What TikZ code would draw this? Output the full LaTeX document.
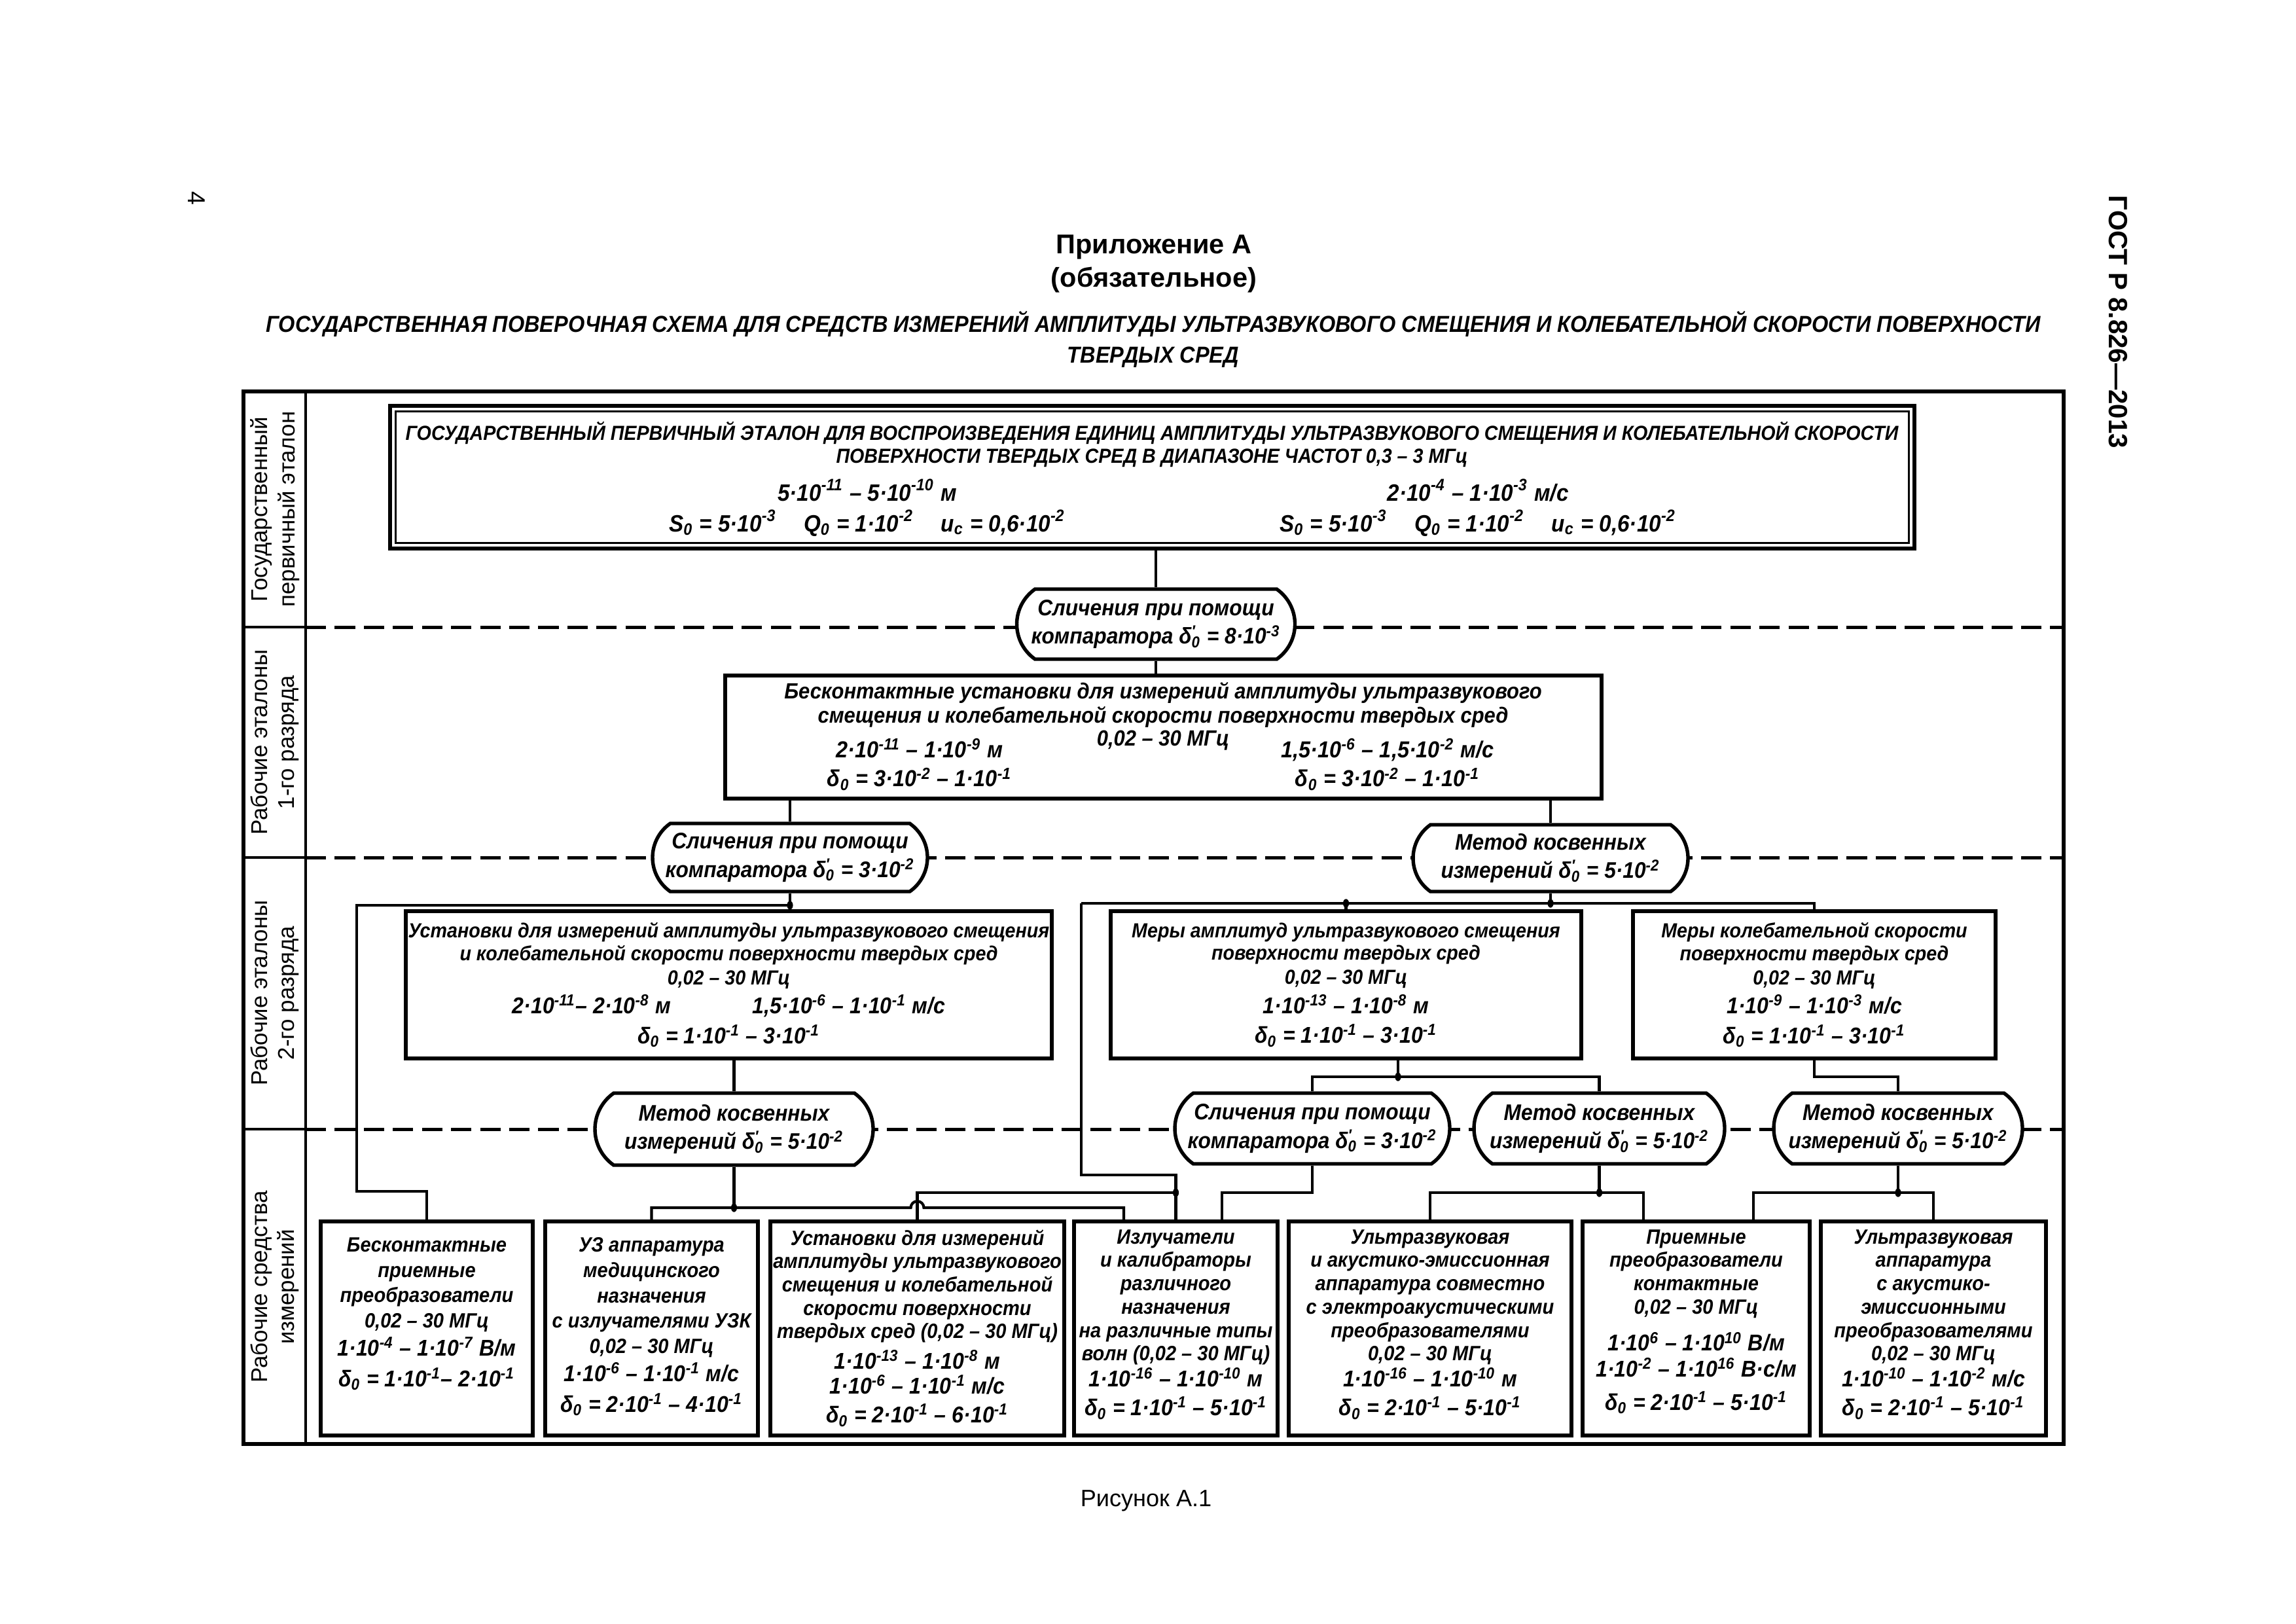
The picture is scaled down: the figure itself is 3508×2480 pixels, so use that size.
\documentclass[tikz,border=0pt]{standalone}
\usepackage{fontspec}
\setmainfont{Liberation Sans}
\newfontfamily\nrw[FakeStretch=0.92]{Liberation Sans}
\usetikzlibrary{shapes.misc}

% one pixel of the page
\newcommand\pxl{0.24088pt}
\newcommand\dz{δ\textsubscript{0}}
\newcommand\dzp{δ\rlap{\textsuperscript{′}}\textsubscript{0}}
\newcommand\ex[1]{\textsuperscript{#1}}
\newcommand\nm{\fontsize{8.4}{1.0\baselineskip}\selectfont}

\begin{document}
\begin{tikzpicture}[x=0.24088pt, y=-0.24088pt,
  every node/.style={inner sep=0pt, align=center},
  tx/.style={font=\nrw\fontsize{7.5}{8.4}\selectfont\bfseries\itshape},
  txs/.style={font=\nrw\fontsize{8.5}{10.8}\selectfont\bfseries\itshape},
  btx/.style={font=\nrw\fontsize{7.6}{8.6}\selectfont\bfseries\itshape, below=3.5pt},
  bx/.style 2 args={draw, line width=1.4pt, fill=white, minimum width=#1*\pxl, minimum height=#2*\pxl},
  rnd/.style 2 args={draw, line width=1.3pt, fill=white, rounded rectangle, rounded rectangle arc length=110,
    minimum width=#1*\pxl, minimum height=#2*\pxl, font=\nrw\fontsize{8.3}{10.5}\selectfont\bfseries\itshape},
  ln/.style={line width=1pt},
  rowlbl/.style={rotate=90, font=\fontsize{8.4}{10}\selectfont},
  sep/.style={line width=1.2pt, dash pattern=on 7.5pt off 3.2pt}
]
\useasboundingbox (0,0) rectangle (3508,2480);

% page head and foot
\node[rotate=-90, font=\fontsize{9}{10}\selectfont] (pg) at (300,303) {4};
\node[rotate=-90, font=\fontsize{9.7}{11}\selectfont\bfseries] (gost) at (3236,492) {ГОСТ Р 8.826—2013};
\node[font=\fontsize{10}{12}\selectfont\bfseries] (ttl) at (1763,378) {Приложение А};
\node[font=\fontsize{10}{12}\selectfont\bfseries] (obz) at (1763,428) {(обязательное)};
\node[font=\nrw\fontsize{8.5}{11.3}\selectfont\bfseries\itshape] (sub) at (1762,518)
  {ГОСУДАРСТВЕННАЯ ПОВЕРОЧНАЯ СХЕМА ДЛЯ СРЕДСТВ ИЗМЕРЕНИЙ АМПЛИТУДЫ УЛЬТРАЗВУКОВОГО СМЕЩЕНИЯ И КОЛЕБАТЕЛЬНОЙ СКОРОСТИ ПОВЕРХНОСТИ\\ТВЕРДЫХ СРЕД};
\node[font=\fontsize{8.7}{10}\selectfont] (fig) at (1751,2293) {Рисунок А.1};

% frame and rows
\draw[line width=1.3pt] (372,598) rectangle (3153,2206);
\draw[line width=0.8pt] (467,598) -- (467,2206);
\foreach \y in {958,1310,1725} {
  \draw[line width=1pt] (372,\y) -- (467,\y);
  \draw[sep] (467,\y) -- (3153,\y);
}
\node[rowlbl] (r1) at (420,778) {Государственный\\первичный эталон};
\node[rowlbl] (r2) at (420,1134) {Рабочие эталоны\\1-го разряда};
\node[rowlbl] (r3) at (420,1517) {Рабочие эталоны\\2-го разряда};
\node[rowlbl] (r4) at (420,1966) {Рабочие средства\\измерений};

% state primary standard
\node[bx={2329}{218}, line width=1.5pt] (st) at (1760.5,729) {};
\draw[line width=0.9pt] ([xshift=2.8pt,yshift=2.8pt]st.south west) rectangle ([xshift=-2.8pt,yshift=-2.8pt]st.north east);
\node[tx] (stt) at (1760,679) {ГОСУДАРСТВЕННЫЙ ПЕРВИЧНЫЙ ЭТАЛОН ДЛЯ ВОСПРОИЗВЕДЕНИЯ ЕДИНИЦ АМПЛИТУДЫ УЛЬТРАЗВУКОВОГО СМЕЩЕНИЯ И КОЛЕБАТЕЛЬНОЙ СКОРОСТИ\\ПОВЕРХНОСТИ ТВЕРДЫХ СРЕД В ДИАПАЗОНЕ ЧАСТОТ 0,3 – 3 МГц};
\node[txs, font=\nrw\fontsize{8.7}{11.3}\selectfont\bfseries\itshape] (stl) at (1325,776) {5·10\ex{-11} – 5·10\ex{-10} м\\S\textsubscript{0} = 5·10\ex{-3}\hspace{10pt}Q\textsubscript{0} = 1·10\ex{-2}\hspace{10pt}u\textsubscript{c} = 0,6·10\ex{-2}};
\node[txs, font=\nrw\fontsize{8.7}{11.3}\selectfont\bfseries\itshape] (str) at (2258,776) {2·10\ex{-4} – 1·10\ex{-3} м/с\\S\textsubscript{0} = 5·10\ex{-3}\hspace{10pt}Q\textsubscript{0} = 1·10\ex{-2}\hspace{10pt}u\textsubscript{c} = 0,6·10\ex{-2}};

% working standards, 1st grade
\node[rnd={425}{107}] (c1) at (1766,953.5) {Сличения при помощи\\компаратора \dzp{} = 8·10\ex{-3}};
\node[bx={1339}{188}] (w1) at (1777.5,1126) {};
\node[tx, font=\nrw\fontsize{8.1}{8.9}\selectfont\bfseries\itshape] (w1t) at (1777,1077) {Бесконтактные установки для измерений амплитуды ультразвукового\\смещения и колебательной скорости поверхности твердых сред};
\node[tx, font=\nrw\fontsize{8.1}{8.9}\selectfont\bfseries\itshape] (w1f) at (1777,1131) {0,02 – 30 МГц};
\node[txs] (w1l) at (1405,1168) {2·10\ex{-11} – 1·10\ex{-9} м\\\dz{} = 3·10\ex{-2} – 1·10\ex{-1}};
\node[txs] (w1r) at (2120,1168) {1,5·10\ex{-6} – 1,5·10\ex{-2} м/с\\\dz{} = 3·10\ex{-2} – 1·10\ex{-1}};

% working standards, 2nd grade
\node[rnd={420}{104}] (c2) at (1207,1310) {Сличения при помощи\\компаратора \dzp{} = 3·10\ex{-2}};
\node[rnd={420}{102}] (m2) at (2369,1311) {Метод косвенных\\измерений \dzp{} = 5·10\ex{-2}};
\node[bx={987}{225}, tx] (w2a) at (1113.5,1504.5) {Установки для измерений амплитуды ультразвукового смещения\\и колебательной скорости поверхности твердых сред\\[0.5pt]0,02 – 30 МГц\\[1.2pt]\nm 2·10\ex{-11}– 2·10\ex{-8} м\hspace{30pt}1,5·10\ex{-6} – 1·10\ex{-1} м/с\\[2.6pt]\nm\dz{} = 1·10\ex{-1} – 3·10\ex{-1}};
\node[bx={719}{225}, tx] (w2b) at (2056.5,1504.5) {Меры амплитуд ультразвукового смещения\\поверхности твердых сред\\[0.5pt]0,02 – 30 МГц\\[1.2pt]\nm 1·10\ex{-13} – 1·10\ex{-8} м\\[2.6pt]\nm\dz{} = 1·10\ex{-1} – 3·10\ex{-1}};
\node[bx={554}{225}, tx] (w2c) at (2772,1504.5) {Меры колебательной скорости\\поверхности твердых сред\\[0.5pt]0,02 – 30 МГц\\[1.2pt]\nm 1·10\ex{-9} – 1·10\ex{-3} м/с\\[2.6pt]\nm\dz{} = 1·10\ex{-1} – 3·10\ex{-1}};

% working measuring instruments
\node[rnd={425}{110}] (m3a) at (1121.5,1725) {Метод косвенных\\измерений \dzp{} = 5·10\ex{-2}};
\node[rnd={420}{108}] (c3) at (2005,1724) {Сличения при помощи\\компаратора \dzp{} = 3·10\ex{-2}};
\node[rnd={383}{108}] (m3b) at (2443.5,1724) {Метод косвенных\\измерений \dzp{} = 5·10\ex{-2}};
\node[rnd={380}{108}] (m3c) at (2900,1724) {Метод косвенных\\измерений \dzp{} = 5·10\ex{-2}};

\node[bx={324}{327}] (b1) at (652,2029.5) {};
\node[bx={325}{327}] (b2) at (995.5,2029.5) {};
\node[bx={449}{327}] (b3) at (1401.5,2029.5) {};
\node[bx={311}{327}] (b4) at (1796.5,2029.5) {};
\node[bx={432}{327}] (b5) at (2185,2029.5) {};
\node[bx={347}{327}] (b6) at (2591.5,2029.5) {};
\node[bx={344}{327}] (b7) at (2954,2029.5) {};
\node[btx, below=3pt, font=\nrw\fontsize{7.6}{9.3}\selectfont\bfseries\itshape] (b1t) at (b1.north) {Бесконтактные\\приемные\\преобразователи\\0,02 – 30 МГц\\[1pt]\nm 1·10\ex{-4} – 1·10\ex{-7} В/м\\[2pt]\nm\dz{} = 1·10\ex{-1}– 2·10\ex{-1}};
\node[btx, below=3pt, font=\nrw\fontsize{7.6}{9.3}\selectfont\bfseries\itshape] (b2t) at (b2.north) {УЗ аппаратура\\медицинского\\назначения\\с излучателями УЗК\\0,02 – 30 МГц\\[1pt]\nm 1·10\ex{-6} – 1·10\ex{-1} м/с\\[2pt]\nm\dz{} = 2·10\ex{-1} – 4·10\ex{-1}};
\node[btx] (b3t) at (b3.north) {Установки для измерений\\амплитуды ультразвукового\\смещения и колебательной\\скорости поверхности\\твердых сред (0,02 – 30 МГц)\\[2.6pt]\nm 1·10\ex{-13} – 1·10\ex{-8} м\\[0.6pt]\nm 1·10\ex{-6} – 1·10\ex{-1} м/с\\[2pt]\nm\dz{} = 2·10\ex{-1} – 6·10\ex{-1}};
\node[btx] (b4t) at (b4.north) {Излучатели\\и калибраторы\\различного\\назначения\\на различные типы\\волн (0,02 – 30 МГц)\\[1pt]\nm 1·10\ex{-16} – 1·10\ex{-10} м\\[2pt]\nm\dz{} = 1·10\ex{-1} – 5·10\ex{-1}};
\node[btx] (b5t) at (b5.north) {Ультразвуковая\\и акустико-эмиссионная\\аппаратура совместно\\с электроакустическими\\преобразователями\\0,02 – 30 МГц\\[1pt]\nm 1·10\ex{-16} – 1·10\ex{-10} м\\[2pt]\nm\dz{} = 2·10\ex{-1} – 5·10\ex{-1}};
\node[btx] (b6t) at (b6.north) {Приемные\\преобразователи\\контактные\\0,02 – 30 МГц\\[5pt]\nm 1·10\ex{6} – 1·10\ex{10} В/м\\[1pt]\nm 1·10\ex{-2} – 1·10\ex{16} В·с/м\\[3.6pt]\nm\dz{} = 2·10\ex{-1} – 5·10\ex{-1}};
\node[btx] (b7t) at (b7.north) {Ультразвуковая\\аппаратура\\с акустико-\\эмиссионными\\преобразователями\\0,02 – 30 МГц\\[1pt]\nm 1·10\ex{-10} – 1·10\ex{-2} м/с\\[2pt]\nm\dz{} = 2·10\ex{-1} – 5·10\ex{-1}};

% junctions and bends
\coordinate (j1) at (1207,1383);
\coordinate (k1) at (545,1820);
\coordinate (j2) at (2369,1380);
\coordinate (k2) at (1652,1380);
\coordinate (j8) at (2056.5,1380);
\coordinate (k3) at (1796.5,1795);
\coordinate (j3) at (1796.5,1822);
\coordinate (j4) at (1121.5,1845);
\coordinate (h1) at (1401.5,1845);
\coordinate (k4) at (1717,1845);
\coordinate (j7) at (2136,1645);
\coordinate (k7) at (2772,1645);
\coordinate (k5) at (1867,1822);
\coordinate (j5) at (2443.5,1822);
\coordinate (k6) at (2511,1822);
\coordinate (j6) at (2900,1822);
\coordinate (k8) at (2679,1822);

% connectors
\draw[ln] (st.south -| c1.north) -- (c1.north);
\draw[ln] (c1.south) -- (c1.south |- w1.north);
\draw[ln] (c2.north |- w1.south) -- (c2.north);
\draw[ln] (m2.north |- w1.south) -- (m2.north);
\draw[ln] (c2.south) -- (c2.south |- w2a.north);
\draw[ln] (j1) -| (k1) -| (b1.north);
\draw[ln] (w2a.south -| m3a.north) -- (m3a.north);
\draw[ln] (m2.south) -- (j2);
\draw[ln] (k2) -- (k2 -| w2c.north) -- (w2c.north);
\draw[ln] (j8) -- (w2b.north);
\draw[ln] (k2) |- (k3) -- (b4.north);
\draw[ln] (b3.north) |- (j3);
\draw[ln] (m3a.south) -- (j4);
\draw[ln] (b2.north) |- ([xshift=-2.4pt]h1) arc[start angle=180, end angle=0, radius=2.4pt] -- (k4) -- (k4 |- b4.north);
\draw[ln] (j7 |- w2b.south) -- (j7);
\draw[ln] (c3.north) |- (j7) -| (m3b.north);
\draw[ln] (w2c.south) -- (k7) -| (m3c.north);
\draw[ln] (c3.south) |- (k5) -- (k5 |- b4.north);
\draw[ln] (m3b.south) -- (j5);
\draw[ln] (b5.north) |- (k6) -- (k6 |- b6.north);
\draw[ln] (m3c.south) -- (j6);
\draw[ln] (k8 |- b6.north) -- (k8) -| (b7.north);
\foreach \j in {j1,j2,j3,j4,j5,j6,j7,j8}
  \fill (\j) ellipse[x radius=1.1pt, y radius=1.6pt];
\end{tikzpicture}
\end{document}
